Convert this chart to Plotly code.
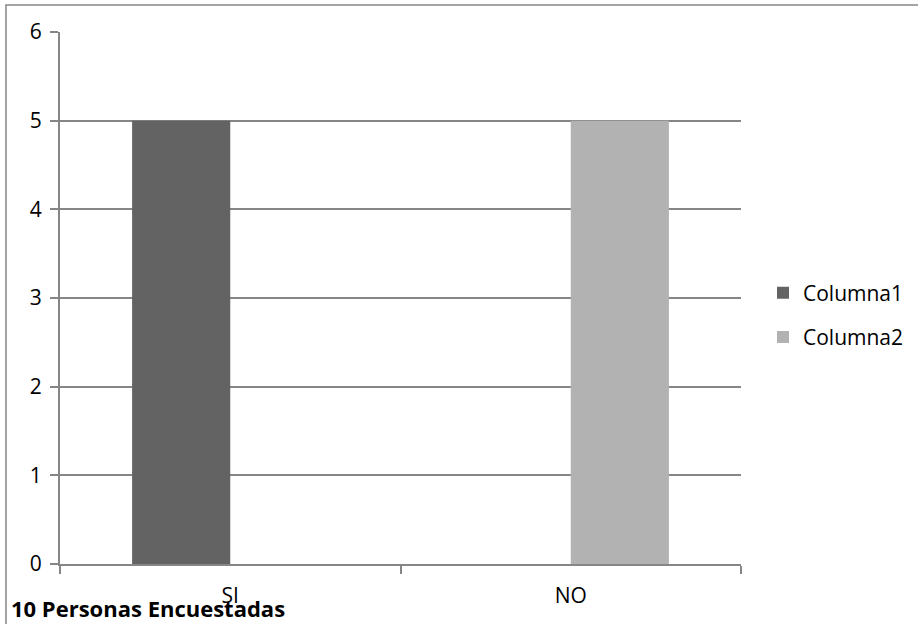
import plotly.graph_objects as go

categories = ["SI", "NO"]
columna1 = [5, None]
columna2 = [None, 5]
series_names = ["Columna1", "Columna2"]
y_ticks = [0, 1, 2, 3, 4, 5, 6]
axis_title = "10 Personas Encuestadas"

W, H = 918, 624
L, R, T, B = 60, 177, 32, 60
pw, ph = W - L - R, H - T - B

def px_x(x):
    return (x - L) / pw

def px_y(y):
    return (H - B - y) / ph

FONT = "Open Sans"
grid = "#868686"

fig = go.Figure()
fig.add_trace(go.Bar(x=categories, y=columna1, name=series_names[0],
                     marker=dict(color="#636363", line=dict(width=0)),
                     legendgroup="a"))
fig.add_trace(go.Bar(x=categories, y=columna2, name=series_names[1],
                     marker=dict(color="#b2b2b2", line=dict(width=0)),
                     legendgroup="b"))

fig.update_layout(
    width=W, height=H,
    margin=dict(l=L, r=R, t=T, b=B, pad=0, autoexpand=False),
    paper_bgcolor="white", plot_bgcolor="white",
    barmode="group", bargap=0.4235, bargroupgap=0,
    font=dict(family=FONT, size=21, color="#000000"),
    showlegend=True,
    legend=dict(x=px_x(763), xanchor="left", y=px_y(315), yanchor="middle",
                font=dict(family=FONT, size=21, color="#000000"),
                traceorder="grouped", tracegroupgap=14,
                bgcolor="rgba(0,0,0,0)", itemwidth=30),
    xaxis=dict(showline=True, linecolor=grid, linewidth=2, showgrid=False,
               ticks="outside", tickson="boundaries", ticklen=8, tickcolor=grid,
               tickwidth=2, ticklabelstandoff=12, zeroline=False,
               tickfont=dict(family=FONT, size=21, color="#000000")),
    yaxis=dict(range=[0, 6], tickvals=y_ticks, showline=True, linecolor=grid,
               linewidth=2, showgrid=True, gridcolor=grid, gridwidth=1.5,
               ticks="outside", ticklen=8, tickcolor=grid, tickwidth=2,
               zeroline=False, ticklabelstandoff=4,
               tickfont=dict(family=FONT, size=21, color="#000000")),
    annotations=[dict(text="<b>" + axis_title + "</b>", xref="paper", yref="paper",
                      x=px_x(9), y=px_y(608), xanchor="left", yanchor="middle",
                      showarrow=False, font=dict(family=FONT, size=22, color="#000000"))],
    shapes=[dict(type="rect", xref="paper", yref="paper",
                 x0=px_x(6), x1=px_x(940), y0=px_y(640), y1=px_y(5),
                 line=dict(color=grid, width=1.5), fillcolor="rgba(0,0,0,0)",
                 layer="below")],
)

fig.write_html("out.html", config={"displayModeBar": False},
               post_script="document.body.style.margin='0';document.body.style.overflow='hidden';")
